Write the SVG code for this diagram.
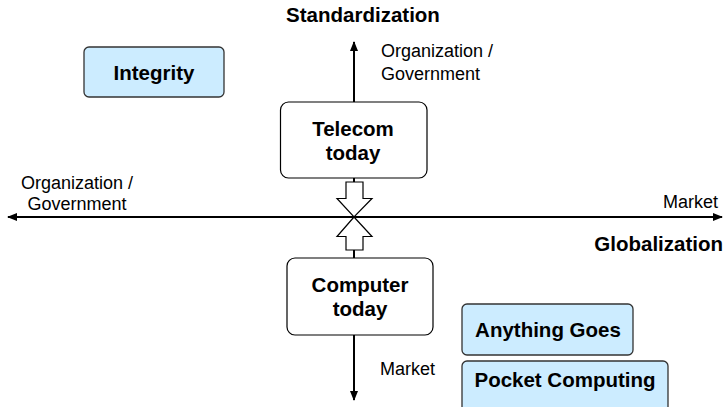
<svg xmlns="http://www.w3.org/2000/svg" width="726" height="407" viewBox="0 0 726 407">
<style>
.lbl{font-family:"Liberation Sans",Arial,sans-serif;font-size:18px;fill:#000}
.bold{font-family:"Liberation Sans",Arial,sans-serif;font-size:20.5px;font-weight:bold;fill:#000}
.wbox{fill:#fff;stroke:#000;stroke-width:1.2}
.bbox{fill:#CCECFF;stroke:#333;stroke-width:1.3}
.axis{stroke:#000;stroke-width:2;fill:none}
.hollow{fill:#fff;stroke:#000;stroke-width:1.2}
</style>
<defs>
<marker id="ah" markerWidth="10" markerHeight="8" refX="9" refY="4" orient="auto" markerUnits="userSpaceOnUse">
<path d="M0,0 L10,4 L0,8 Z" fill="#000"/>
</marker>
</defs>
<rect width="726" height="407" fill="#fff"/>
<g id="connectors">
<line class="axis" x1="360" y1="217" x2="722" y2="217" marker-end="url(#ah)"/>
<line class="axis" x1="360" y1="217" x2="8" y2="217" marker-end="url(#ah)"/>
<line class="axis" x1="354" y1="102" x2="354" y2="42" marker-end="url(#ah)"/>
<line class="axis" x1="354" y1="178" x2="354" y2="258"/>
<line class="axis" x1="354" y1="335" x2="354" y2="400" marker-end="url(#ah)"/>
<path id="down-arrow" class="hollow" d="M346,182 H363 V198.5 H372 L354,217 L337,198.5 H346 Z"/>
<path id="up-arrow" class="hollow" d="M354,217 L372,236.5 H363 V250 H346 V236.5 H337 Z"/>
</g>
<g id="axis-labels">
<text class="bold" x="363" y="22" text-anchor="middle">Standardization</text>
<text class="bold" x="723" y="251" text-anchor="end">Globalization</text>
<text class="lbl" x="381" y="57">Organization /</text>
<text class="lbl" x="381" y="80">Government</text>
<text class="lbl" x="77" y="189" text-anchor="middle">Organization /</text>
<text class="lbl" x="77" y="210" text-anchor="middle">Government</text>
<text class="lbl" x="718" y="208" text-anchor="end">Market</text>
<text class="lbl" x="380" y="375">Market</text>
</g>
<g id="integrity">
<rect class="bbox" x="84" y="47" width="140" height="50" rx="5"/>
<text class="bold" x="154" y="80" text-anchor="middle">Integrity</text>
</g>
<g id="telecom">
<rect class="wbox" x="280.5" y="102" width="146.5" height="76" rx="8"/>
<text class="bold" x="353" y="136" text-anchor="middle">Telecom</text>
<text class="bold" x="353" y="160" text-anchor="middle">today</text>
</g>
<g id="computer">
<rect class="wbox" x="287" y="258" width="146" height="77" rx="8"/>
<text class="bold" x="360" y="292" text-anchor="middle">Computer</text>
<text class="bold" x="360" y="316" text-anchor="middle">today</text>
</g>
<g id="anything-goes">
<rect class="bbox" x="462" y="304" width="171" height="51" rx="5"/>
<text class="bold" x="548" y="337" text-anchor="middle">Anything Goes</text>
</g>
<g id="pocket-computing">
<rect class="bbox" x="462" y="361" width="206" height="60" rx="5"/>
<text class="bold" x="565" y="387" text-anchor="middle">Pocket Computing</text>
</g>
</svg>
